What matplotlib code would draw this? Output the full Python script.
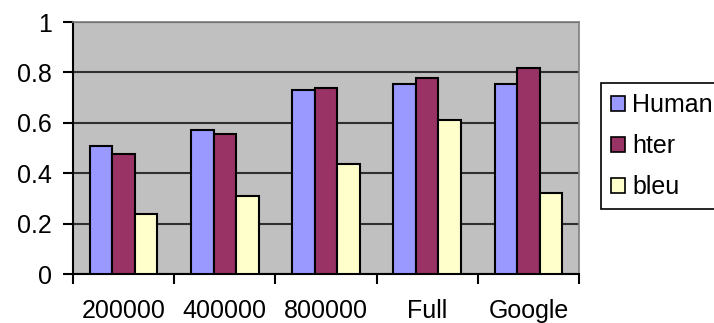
import matplotlib
matplotlib.use("Agg")
import matplotlib.pyplot as plt
import numpy as np
from matplotlib.patches import Patch

plt.rcParams['font.family'] = ['Liberation Sans', 'DejaVu Sans']

categories = ["200000", "400000", "800000", "Full", "Google"]
human = [0.508, 0.571, 0.730, 0.754, 0.754]
hter = [0.476, 0.556, 0.738, 0.778, 0.817]
bleu = [0.238, 0.310, 0.437, 0.611, 0.320]
series_names = ["Human", "hter", "bleu"]
colors = ["#9999FF", "#993366", "#FFFFCC"]

fig = plt.figure(figsize=(7.14, 3.23), dpi=100)
ax = fig.add_axes([73 / 714, 1 - 274 / 323, (579 - 73) / 714, (274 - 22) / 323])
ax.set_facecolor("#C0C0C0")

x = np.arange(len(categories))
w = 1 / 4.5
for i, (vals, c) in enumerate(zip([human, hter, bleu], colors)):
    ax.bar(x + (i - 1) * w, vals, width=w, color=c, edgecolor="black",
           linewidth=1.5, zorder=3)

ax.set_xlim(-0.5, len(categories) - 0.5)
ax.set_ylim(0, 1)
ax.set_yticks(np.arange(0, 1.01, 0.2))
ax.set_yticklabels(["0", "0.2", "0.4", "0.6", "0.8", "1"])
ax.yaxis.grid(True, color="#303030", linewidth=1.5, zorder=1)

ax.set_xticks(x)
ax.set_xticklabels(categories)
ax.set_xticks(np.arange(-0.5, len(categories), 1), minor=True)
ax.tick_params(axis="x", which="major", length=0, pad=18, labelsize=18)
ax.tick_params(axis="x", which="minor", length=7, width=1.5, direction="out")
ax.tick_params(axis="y", length=7, width=1.5, direction="out", pad=8, labelsize=18)

for s in ["top", "right"]:
    ax.spines[s].set_color("#808080")
    ax.spines[s].set_linewidth(1.2)
for s in ["left", "bottom"]:
    ax.spines[s].set_color("black")
    ax.spines[s].set_linewidth(1.5)

handles = [Patch(facecolor=c, edgecolor="black", linewidth=1.2) for c in colors]
leg = fig.legend(handles, series_names, loc="upper left",
                 bbox_to_anchor=(601 / 714, 1 - 83 / 323),
                 fontsize=18, frameon=True, fancybox=False, framealpha=1,
                 handlelength=0.55, handleheight=0.55, handletextpad=0.3,
                 borderpad=0.4, labelspacing=0.68, borderaxespad=0)
leg.get_frame().set_edgecolor("black")
leg.get_frame().set_linewidth(1.2)

fig.savefig("out.png", dpi=100)
